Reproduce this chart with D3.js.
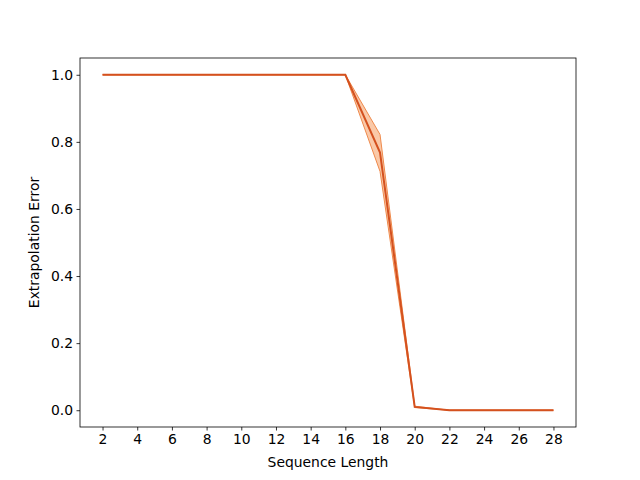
<!DOCTYPE html>
<html>
<head>
<meta charset="utf-8">
<script src="https://cdn.jsdelivr.net/npm/d3@7"></script>
<style>
  body { margin: 0; background: #fff; }
  text { font-family: "DejaVu Sans", sans-serif; }
</style>
</head>
<body>
<div id="chart"></div>
<script>
// data
const seqLength = [2, 4, 6, 8, 10, 12, 14, 16, 18, 20, 22, 24, 26, 28];
const meanError = [1, 1, 1, 1, 1, 1, 1, 1, 0.768, 0.010, 0, 0, 0, 0];
const lowError  = [1, 1, 1, 1, 1, 1, 1, 1, 0.712, 0.008, 0, 0, 0, 0];
const highError = [1, 1, 1, 1, 1, 1, 1, 1, 0.822, 0.012, 0, 0, 0, 0];
const xTicks = [2, 4, 6, 8, 10, 12, 14, 16, 18, 20, 22, 24, 26, 28];
const yTicks = [0.0, 0.2, 0.4, 0.6, 0.8, 1.0];

const svgwidth = 640, svgheight = 480;
const margin = {top: 58, bottom: 53, left: 80, right: 64};
const width = svgwidth - margin.left - margin.right;
const height = svgheight - margin.top - margin.bottom;

const svg = d3.select('#chart').append('svg')
    .attr('width', svgwidth).attr('height', svgheight);

const chartGroup = svg.append('g')
    .attr('transform', `translate(${margin.left},${margin.top})`);

// x: 0.7 units of padding like matplotlib's 5% margin
const xScale = d3.scaleLinear().domain([0.7, 29.3]).range([0, width]);
const yScale = d3.scaleLinear().domain([-0.05, 1.05]).range([height, 0]);

const rows = seqLength.map((x, i) => ({x, y: meanError[i], lo: lowError[i], hi: highError[i]}));

// band
chartGroup.append('path')
    .datum(rows)
    .attr('d', d3.area().x(d => xScale(d.x)).y0(d => yScale(d.lo)).y1(d => yScale(d.hi)))
    .attr('fill', '#f7a56e')
    .attr('fill-opacity', 0.6)
    .attr('stroke', '#ef8a4c')
    .attr('stroke-width', 1);

// mean line
chartGroup.append('path')
    .datum(rows)
    .attr('d', d3.line().x(d => xScale(d.x)).y(d => yScale(d.y)))
    .attr('fill', 'none')
    .attr('stroke', '#d4511f')
    .attr('stroke-width', 2);

// axes
const xAxis = d3.axisBottom(xScale).tickValues(xTicks).tickSize(3.5).tickPadding(3.5).tickFormat(d3.format('d'));
const yAxis = d3.axisLeft(yScale).tickValues(yTicks).tickSize(3.5).tickPadding(3.5).tickFormat(d3.format('.1f'));

const gx = chartGroup.append('g').attr('transform', `translate(0,${height})`).call(xAxis);
const gy = chartGroup.append('g').call(yAxis);
[gx, gy].forEach(g => {
    g.select('.domain').remove();
    g.selectAll('text').attr('font-size', 13.9).attr('fill', '#000').style('font-family', '"DejaVu Sans", sans-serif');
    g.selectAll('line').attr('stroke', '#000').attr('stroke-width', 0.8);
});

// frame
chartGroup.append('rect')
    .attr('width', width).attr('height', height)
    .attr('fill', 'none').attr('stroke', '#000').attr('stroke-width', 0.8);

// labels
chartGroup.append('text')
    .attr('transform', `translate(${width / 2}, ${height + 40})`)
    .style('text-anchor', 'middle')
    .attr('font-size', 13.9)
    .text('Sequence Length');

chartGroup.append('text')
    .attr('transform', `translate(-41, ${height / 2}) rotate(-90)`)
    .style('text-anchor', 'middle')
    .attr('font-size', 13.9)
    .text('Extrapolation Error');
</script>
</body>
</html>
